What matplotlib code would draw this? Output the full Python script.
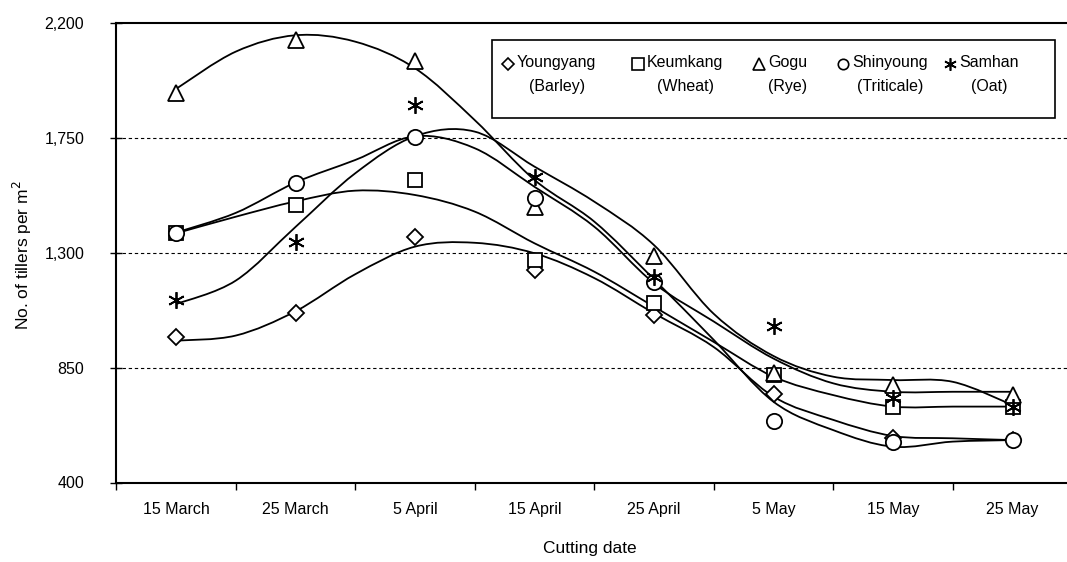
import matplotlib

matplotlib.use("Agg")

import matplotlib.pyplot as plt
import numpy as np
from matplotlib.patches import PathPatch, Rectangle
from matplotlib.path import Path

plt.rcParams["font.family"] = ["Liberation Sans", "DejaVu Sans"]

# cutting dates (categories)
dates = ["15 March", "25 March", "5 April", "15 April", "25 April", "5 May", "15 May", "25 May"]

# cultivars / crops
names = ["Youngyang", "Keumkang", "Gogu", "Shinyoung", "Samhan"]
crops = ["(Barley)", "(Wheat)", "(Rye)", "(Triticale)", "(Oat)"]

# observed tillers per m2
youngyang = [970, 1062, 1362, 1232, 1055, 745, 575, 566]
keumkang = [1375, 1486, 1584, 1271, 1101, 821, 694, 694]
gogu = [1926, 2133, 2050, 1479, 1286, 827, 781, 742]
shinyoung = [1378, 1571, 1751, 1512, 1186, 642, 560, 566]
samhan = [1114, 1342, 1877, 1597, 1205, 1012, 730, 697]

# fitted curves, read at every half step between cutting dates
fit_pos = [0, 0.5, 1, 1.5, 2, 2.5, 3, 3.5, 4, 4.5, 5, 5.5, 6, 6.5, 7]
youngyang_fit = [955, 975, 1070, 1215, 1323, 1338, 1297, 1200, 1062, 930, 736, 645, 582, 573, 566]
keumkang_fit = [1375, 1440, 1500, 1542, 1525, 1460, 1336, 1225, 1088, 950, 814, 742, 697, 697, 697]
gogu_fit = [1940, 2086, 2150, 2125, 2021, 1818, 1584, 1421, 1195, 958, 716, 605, 540, 560, 566]
shinyoung_fit = [1378, 1455, 1574, 1662, 1755, 1708, 1557, 1401, 1180, 1030, 885, 788, 755, 755, 755]
samhan_fit = [1098, 1190, 1400, 1610, 1755, 1773, 1636, 1499, 1329, 1060, 895, 814, 801, 794, 703]

y_ticks = [400, 850, 1300, 1750, 2200]

observed = [youngyang, keumkang, gogu, shinyoung, samhan]
fitted = [youngyang_fit, keumkang_fit, gogu_fit, shinyoung_fit, samhan_fit]
markers = ["D", "s", "^", "o", (6, 2, 0)]
sizes = [8, 10, 11, 11, 12]
legend_sizes = [6, 8, 8, 7.5, 9]


def smooth_path(xs, ys):
    # Catmull-Rom style smoothed line, like a spreadsheet "smoothed line"
    pts = np.column_stack([xs, ys]).astype(float)
    padded = np.vstack([pts[0], pts, pts[-1]])
    verts = [pts[0]]
    codes = [Path.MOVETO]
    for i in range(len(pts) - 1):
        p0, p1, p2, p3 = padded[i], padded[i + 1], padded[i + 2], padded[i + 3]
        verts += [p1 + (p2 - p0) / 6, p2 - (p3 - p1) / 6, p2]
        codes += [Path.CURVE4] * 3
    return Path(verts, codes)


fig = plt.figure(figsize=(10.67, 5.62), dpi=100)
W, H = 1067, 562
ax = fig.add_axes([116.25 / W, 1 - 482.5 / H, 956 / W, 460 / H])
ax.set_xlim(-0.5, 7.5)
ax.set_ylim(400, 2200)

x = np.arange(len(dates))

for fit in fitted:
    ax.add_patch(PathPatch(smooth_path(fit_pos, fit), fill=False, lw=1.3, ec="black", zorder=3))

for vals, m, ms in zip(observed, markers, sizes):
    ax.plot(x, vals, ls="none", marker=m, ms=ms, mfc="white", mec="black", mew=1.3, zorder=4)

# grid and axes
for v in y_ticks[1:-1]:
    ax.axhline(v, color="black", lw=0.8, ls=(0, (3, 2.5)), zorder=1)

ax.set_yticks(y_ticks)
ax.set_yticklabels([f"{v:,}" for v in y_ticks])
ax.tick_params(axis="y", direction="inout", length=8, width=1, pad=19, labelsize=11.5)

ax.set_xticks(np.arange(len(dates)) - 0.5)
ax.set_xticklabels([])
ax.set_xticks(x, minor=True)
ax.set_xticklabels(dates, minor=True)
ax.tick_params(axis="x", which="major", direction="out", length=5, width=1)
ax.tick_params(axis="x", which="minor", length=0, pad=14, labelsize=11.5)

for side in ["left", "bottom", "top"]:
    ax.spines[side].set_linewidth(1.5)
ax.spines["right"].set_visible(False)

fig.text(590 / W, 1 - 548 / H, "Cutting date", ha="center", va="center", fontsize=12.5)
fig.text(22 / W, 1 - 255 / H, "No. of tillers per m$^2$", ha="center", va="center",
         rotation=90, fontsize=12.5)

# legend box drawn by hand (markers sit on the first text line)
box_left, box_top, box_right, box_bottom = 492, 40, 1055, 118
fig.add_artist(Rectangle((box_left / W, 1 - box_bottom / H), (box_right - box_left) / W,
                         (box_bottom - box_top) / H, transform=fig.transFigure,
                         fill=True, fc="white", ec="black", lw=1.2, zorder=5))
marker_x = [508, 638, 759, 843, 950]
row_y = 64
for name, crop, m, ms, mx in zip(names, crops, markers, legend_sizes, marker_x):
    fig.lines.append(plt.Line2D([mx / W], [1 - row_y / H], transform=fig.transFigure, ls="none",
                                marker=m, ms=ms, mfc="white", mec="black", mew=1.2, zorder=6))
    fig.text((mx + 9) / W, 1 - (row_y - 9) / H, f"{name}\n{crop}", ha="left", va="top",
             multialignment="center", fontsize=11.5, linespacing=1.75, zorder=6)

fig.savefig("out.png", dpi=100)
